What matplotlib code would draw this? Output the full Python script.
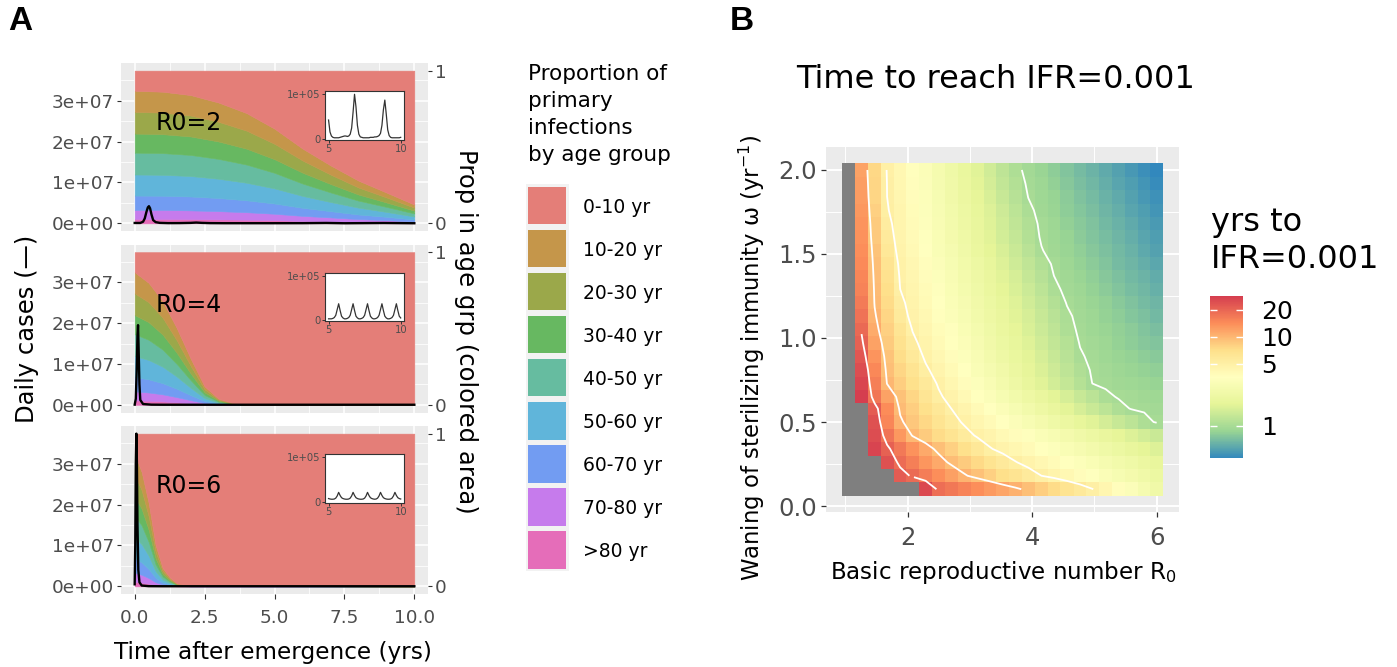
import numpy as np
import matplotlib
matplotlib.use("Agg")
import matplotlib.pyplot as plt
from matplotlib.colors import LinearSegmentedColormap, LogNorm
from matplotlib.patches import Rectangle

plt.rcParams['font.family'] = ['DejaVu Sans']
nan = np.nan

# ======================= DATA =======================
age_groups = ['0-10 yr', '10-20 yr', '20-30 yr', '30-40 yr', '40-50 yr',
              '50-60 yr', '60-70 yr', '70-80 yr', '>80 yr']
age_colors = ['#E47E78', '#C5964A', '#9BA84A', '#67B861', '#66BCA0',
              '#60B5DA', '#729CF2', '#C67BEC', '#E56DB9']
r0_labels = ['R0=2', 'R0=4', 'R0=6']
case_scale = 3.735e7          # secondary axis: proportion 1 == this many daily cases

# --- proportions of primary infections by age group (rows follow age_groups) ---
t_area_r2 = [0, 1, 2, 3, 4, 5, 6, 7, 8, 9, 10]
prop_r2 = [
    [.132, .138, .160, .209, .278, .380, .510, .620, .720, .798, .877],
    [.138, .137, .134, .126, .115, .099, .078, .060, .045, .032, .020],
    [.142, .141, .137, .129, .118, .101, .080, .062, .046, .033, .020],
    [.125, .124, .121, .114, .104, .089, .071, .055, .040, .029, .018],
    [.143, .142, .138, .130, .119, .102, .081, .063, .046, .033, .020],
    [.138, .137, .134, .126, .115, .099, .078, .060, .045, .032, .020],
    [.094, .093, .091, .086, .078, .067, .053, .041, .030, .022, .013],
    [.059, .059, .057, .054, .049, .042, .033, .026, .019, .014, .008],
    [.029, .029, .028, .026, .024, .021, .016, .013, .009, .007, .004],
]
t_area_r4 = [0, 0.5, 1, 1.5, 2, 2.5, 3, 3.5, 4, 10]
prop_r4 = [
    [.132, .201, .321, .496, .696, .879, .960, .9877, 1, 1],
    [.138, .127, .108, .080, .048, .019, .006, .002, 0, 0],
    [.142, .131, .111, .082, .050, .020, .007, .002, 0, 0],
    [.125, .115, .098, .073, .044, .018, .006, .002, 0, 0],
    [.143, .132, .112, .083, .050, .020, .007, .002, 0, 0],
    [.138, .127, .108, .080, .048, .019, .006, .002, 0, 0],
    [.094, .086, .073, .055, .033, .013, .004, .001, 0, 0],
    [.059, .054, .046, .034, .021, .008, .003, .001, 0, 0],
    [.029, .027, .023, .017, .010, .004, .001, .0003, 0, 0],
]
t_area_r6 = [0, 0.25, 0.5, 0.75, 1, 1.25, 1.5, 2, 10]
prop_r6 = [
    [.132, .252, .454, .731, .880, .9402, .9798, .997, 1],
    [.138, .119, .087, .043, .019, .0095, .0032, .0005, 0],
    [.142, .122, .089, .044, .020, .0098, .0033, .0005, 0],
    [.125, .108, .079, .039, .017, .0086, .0029, .0004, 0],
    [.143, .123, .090, .044, .020, .0099, .0033, .0005, 0],
    [.138, .119, .087, .043, .019, .0095, .0032, .0005, 0],
    [.094, .081, .059, .029, .013, .0065, .0022, .0003, 0],
    [.059, .051, .037, .018, .008, .004, .0014, .0002, 0],
    [.029, .025, .018, .009, .004, .002, .0007, .0001, 0],
]

# --- daily cases (black line) ---
t_cases_r2 = [0.0, 0.2, 0.3, 0.36, 0.42, 0.47, 0.51, 0.55, 0.6, 0.66, 0.75, 0.9, 1.2,
              1.6, 2.0, 2.2, 2.4, 2.7, 3.2, 4.0, 5.0, 6.0, 6.85, 7.5, 8.9, 10.0]
cases_r2 = [0.1e6, 0.1e6, 0.4e6, 1.2e6, 2.8e6, 3.9e6, 4.2e6, 3.7e6, 2.2e6, 0.8e6, 0.3e6,
            0.12e6, 0.06e6, 0.07e6, 0.12e6, 0.2e6, 0.12e6, 0.06e6, 0.04e6, 0.04e6,
            0.04e6, 0.05e6, 0.1e6, 0.03e6, 0.09e6, 0.03e6]
t_cases_r4 = [0.0, 0.04, 0.07, 0.1, 0.12, 0.14, 0.17, 0.2, 0.3, 0.6, 1.0, 2.0, 3.0,
              5.0, 7.0, 10.0]
cases_r4 = [0.05e6, 1.5e6, 8e6, 17e6, 19.5e6, 14e6, 5e6, 1.2e6, 0.2e6, 0.05e6, 0.03e6,
            0.03e6, 0.03e6, 0.03e6, 0.03e6, 0.03e6]
t_cases_r6 = [0.0, 0.02, 0.04, 0.06, 0.08, 0.1, 0.13, 0.17, 0.25, 0.5, 1.0, 3.0, 10.0]
cases_r6 = [0.5e6, 10e6, 30e6, 37.35e6, 30e6, 15e6, 4e6, 1e6, 0.2e6, 0.05e6, 0.03e6,
            0.03e6, 0.03e6]

# --- inset: daily cases for years 5-10 (thousands), sampled every 0.1 yr ---
inset_t = np.linspace(5.0, 10.0, 51)
inset_r2_k = [42, 15, 6, 3, 2, 2, 2, 2, 3, 4, 5, 6, 6, 5, 6, 10, 24, 60, 100, 72,
              30, 10, 4, 3, 2, 2, 2, 2, 2, 3, 3, 3, 4, 4, 5, 7, 12, 30, 65, 87,
              55, 20, 7, 3, 2, 2, 2, 2, 2, 2, 3]
inset_r4_k = [3, 3, 3, 4, 6, 11, 24, 37, 22, 9, 5, 3, 3, 4, 6, 11, 24, 37, 22, 9,
              5, 3, 3, 4, 6, 11, 24, 37, 22, 9, 5, 3, 3, 4, 6, 11, 24, 37, 22, 9,
              5, 3, 3, 4, 6, 11, 24, 37, 22, 9, 5]
inset_r6_k = [7, 6, 5.5, 5.5, 6, 8, 13, 21, 14, 9, 7, 6, 5.5, 5.5, 6, 8, 13, 21, 14, 9,
              7, 6, 5.5, 5.5, 6, 8, 13, 21, 14, 9, 7, 6, 5.5, 6, 8, 13, 21, 14, 9, 7,
              6, 5.5, 5.5, 6, 8, 13, 21, 14, 9, 7, 6]

# --- panel B: years to reach IFR=0.001 (rows: omega from 2.0 down to 0.1) ---
r0_values = [1.05, 1.26, 1.47, 1.67, 1.88, 2.08, 2.29, 2.50, 2.70, 2.91, 3.12, 3.32, 3.53,
             3.73, 3.94, 4.15, 4.35, 4.56, 4.77, 4.97, 5.18, 5.39, 5.59, 5.80, 6.00]
omega_values = [0.10, 0.18, 0.26, 0.34, 0.42, 0.50, 0.58, 0.65, 0.73, 0.81, 0.89, 0.97, 1.05,
                1.13, 1.21, 1.29, 1.37, 1.44, 1.52, 1.60, 1.68, 1.76, 1.84, 1.92, 2.00]
yrs_rows_top_down = [
    [nan, 12, 7.5, 4.9, 4.2, 3.6, 3.1, 2.65, 2.28, 1.95, 1.66, 1.43, 1.22, 1.05, 0.95, 0.875, 0.81, 0.75, 0.69, 0.64, 0.59, 0.545, 0.505, 0.465, 0.43],
    [nan, 12.3, 7.6, 4.97, 4.25, 3.67, 3.15, 2.70, 2.33, 2.0, 1.72, 1.49, 1.27, 1.10, 0.97, 0.90, 0.83, 0.77, 0.71, 0.66, 0.61, 0.565, 0.525, 0.485, 0.45],
    [nan, 12.6, 7.7, 5.0, 4.3, 3.73, 3.21, 2.77, 2.40, 2.07, 1.78, 1.54, 1.33, 1.15, 0.995, 0.92, 0.86, 0.795, 0.735, 0.685, 0.635, 0.59, 0.545, 0.505, 0.47],
    [nan, 13, 8.0, 5.1, 4.35, 3.78, 3.27, 2.82, 2.46, 2.12, 1.83, 1.60, 1.38, 1.20, 1.04, 0.945, 0.88, 0.815, 0.76, 0.705, 0.655, 0.61, 0.565, 0.525, 0.49],
    [nan, 13.3, 8.4, 5.35, 4.42, 3.85, 3.34, 2.89, 2.52, 2.18, 1.89, 1.65, 1.43, 1.24, 1.08, 0.966, 0.90, 0.84, 0.78, 0.73, 0.68, 0.63, 0.59, 0.545, 0.51],
    [nan, 13.7, 8.6, 5.57, 4.49, 3.92, 3.40, 2.94, 2.57, 2.23, 1.94, 1.69, 1.47, 1.28, 1.11, 0.98, 0.92, 0.857, 0.80, 0.75, 0.70, 0.65, 0.61, 0.567, 0.53],
    [nan, 14, 9.0, 5.9, 4.58, 4.02, 3.49, 3.03, 2.66, 2.31, 2.01, 1.76, 1.53, 1.34, 1.16, 1.01, 0.94, 0.88, 0.82, 0.77, 0.72, 0.67, 0.63, 0.585, 0.55],
    [nan, 14.5, 9.3, 6.4, 4.74, 4.17, 3.64, 3.17, 2.79, 2.43, 2.12, 1.86, 1.62, 1.42, 1.24, 1.08, 0.975, 0.91, 0.85, 0.80, 0.74, 0.69, 0.65, 0.61, 0.57],
    [nan, 15, 9.5, 6.7, 4.87, 4.29, 3.75, 3.28, 2.88, 2.52, 2.21, 1.94, 1.70, 1.50, 1.31, 1.14, 1.0, 0.94, 0.88, 0.82, 0.77, 0.72, 0.68, 0.64, 0.60],
    [nan, 15.5, 9.7, 7.0, 5.0, 4.40, 3.86, 3.38, 2.97, 2.60, 2.28, 2.01, 1.76, 1.55, 1.36, 1.19, 1.04, 0.96, 0.90, 0.845, 0.79, 0.745, 0.70, 0.66, 0.62],
    [nan, 16.5, 9.85, 7.3, 5.3, 4.53, 3.98, 3.49, 3.08, 2.71, 2.38, 2.10, 1.84, 1.63, 1.43, 1.26, 1.11, 0.99, 0.93, 0.88, 0.83, 0.78, 0.73, 0.69, 0.65],
    [nan, 18, 10.3, 7.6, 5.6, 4.65, 4.08, 3.60, 3.18, 2.80, 2.47, 2.18, 1.92, 1.70, 1.50, 1.32, 1.16, 1.03, 0.955, 0.905, 0.85, 0.805, 0.76, 0.72, 0.68],
    [nan, 19.5, 10.9, 8.1, 6.25, 4.94, 4.34, 3.81, 3.37, 2.95, 2.59, 2.29, 2.01, 1.78, 1.56, 1.37, 1.21, 1.06, 0.97, 0.92, 0.875, 0.83, 0.79, 0.745, 0.71],
    [nan, 21, 12.0, 8.5, 6.7, 5.3, 4.53, 3.98, 3.52, 3.09, 2.71, 2.40, 2.11, 1.86, 1.64, 1.44, 1.27, 1.12, 0.99, 0.946, 0.90, 0.855, 0.815, 0.775, 0.74],
    [nan, 23, 13.3, 9.0, 7.2, 5.8, 4.79, 4.20, 3.71, 3.25, 2.85, 2.52, 2.21, 1.95, 1.71, 1.50, 1.32, 1.16, 1.02, 0.965, 0.925, 0.885, 0.85, 0.81, 0.78],
    [nan, 25, 14.8, 9.4, 7.7, 6.35, 5.2, 4.49, 3.95, 3.46, 3.03, 2.67, 2.34, 2.06, 1.80, 1.58, 1.39, 1.22, 1.07, 0.98, 0.946, 0.91, 0.88, 0.85, 0.82],
    [nan, 26.5, 16.0, 9.9, 8.2, 6.9, 5.75, 4.84, 4.26, 3.72, 3.24, 2.85, 2.49, 2.19, 1.91, 1.67, 1.47, 1.28, 1.12, 0.997, 0.97, 0.945, 0.92, 0.895, 0.87],
    [nan, 28.7, 17.5, 12.0, 9.1, 7.6, 6.3, 5.2, 4.57, 4.04, 3.56, 3.16, 2.79, 2.47, 2.18, 1.93, 1.71, 1.51, 1.33, 1.18, 1.04, 0.985, 0.965, 0.94, 0.92],
    [nan, nan, 22, 14.3, 9.6, 8.2, 6.9, 5.9, 5.0, 4.43, 3.93, 3.50, 3.10, 2.76, 2.45, 2.17, 1.93, 1.71, 1.52, 1.35, 1.20, 1.06, 0.99, 0.975, 0.96],
    [nan, nan, 24, 14.9, 10.4, 8.8, 7.5, 6.4, 5.5, 4.82, 4.33, 3.90, 3.50, 3.15, 2.83, 2.54, 2.29, 2.05, 1.84, 1.66, 1.48, 1.33, 1.20, 1.06, 0.98],
    [nan, nan, 25, 17.7, 12.9, 9.8, 8.5, 7.3, 6.4, 5.5, 4.84, 4.43, 4.04, 3.70, 3.37, 3.07, 2.81, 2.56, 2.33, 2.13, 1.94, 1.77, 1.62, 1.47, 1.35],
    [nan, nan, 27, 21, 16.7, 13.7, 11.1, 9.3, 8.0, 6.9, 5.9, 5.1, 4.62, 4.25, 3.88, 3.54, 3.25, 2.97, 2.71, 2.49, 2.27, 2.08, 1.91, 1.74, 1.6],
    [nan, nan, nan, 24, 18.8, 15.9, 13.2, 11.1, 9.5, 8.4, 7.4, 6.5, 5.7, 5.07, 4.6, 4.2, 3.86, 3.53, 3.22, 2.96, 2.70, 2.47, 2.26, 2.07, 1.9],
    [nan, nan, nan, nan, 22, 19.3, 16.4, 14.0, 12.1, 10.3, 9.1, 8.1, 7.1, 6.4, 5.6, 5.0, 4.55, 4.13, 3.74, 3.40, 3.08, 2.79, 2.54, 2.30, 2.1],
    [nan, nan, nan, nan, nan, nan, 26, 18.7, 17.0, 15.4, 14.0, 12.7, 11.5, 10.5, 9.4, 8.2, 7.3, 6.4, 5.7, 5.04, 4.3, 3.66, 3.15, 2.69, 2.3],
]
contour_levels = [1, 5, 10, 20]
colorbar_breaks = [1, 5, 10, 20]
spectral7 = ['#3288BD', '#99D594', '#E6F598', '#FFFFBF', '#FEE08B', '#FC8D59', '#D53E4F']

for row in yrs_rows_top_down:
    assert len(row) == 25, len(row)
assert len(yrs_rows_top_down) == 25
for arr in (inset_r2_k, inset_r4_k, inset_r6_k):
    assert len(arr) == 51, len(arr)

# ======================= FIGURE =======================
W, H = 1397.0, 667.0
fig = plt.figure(figsize=(W / 100, H / 100), dpi=100)
fig.patch.set_facecolor('white')


def rect(x0, y0, x1, y1):
    return [x0 / W, 1 - y1 / H, (x1 - x0) / W, (y1 - y0) / H]


TICK_C = '#333333'
LAB_C = '#4D4D4D'

panel_boxes = [(120.7, 63, 428.3, 231), (120.7, 244.5, 428.3, 412.5), (120.7, 426, 428.3, 594)]
panel_data = [
    (t_area_r2, prop_r2, t_cases_r2, cases_r2, inset_r2_k),
    (t_area_r4, prop_r4, t_cases_r4, cases_r4, inset_r4_k),
    (t_area_r6, prop_r6, t_cases_r6, cases_r6, inset_r6_k),
]

for i, (t_area, props, t_c, cases, ins_k) in enumerate(panel_data):
    ax = fig.add_axes(rect(*panel_boxes[i]))
    ax.set_facecolor('#EBEBEB')
    for s in ax.spines.values():
        s.set_visible(False)
    ax.set_xlim(-0.5, 10.5)
    ax.set_ylim(-0.05 * case_scale, 1.05 * case_scale)
    ax.set_xticks([0, 2.5, 5, 7.5, 10])
    ax.set_xticks([1.25, 3.75, 6.25, 8.75], minor=True)
    ax.set_yticks([0, 1e7, 2e7, 3e7])
    ax.set_yticks([0.5e7, 1.5e7, 2.5e7, 3.5e7], minor=True)
    ax.grid(which='major', color='white', lw=1.1)
    ax.grid(which='minor', color='white', lw=0.55)
    ax.set_axisbelow(True)

    layers = [np.array(p) * case_scale for p in props[::-1]]
    ax.stackplot(t_area, *layers, colors=age_colors[::-1], linewidth=0.4,
                 edgecolor='face', zorder=2)
    ax.plot(t_c, cases, color='black', lw=1.7, zorder=3)

    ax.set_yticklabels(['0e+00', '1e+07', '2e+07', '3e+07'])
    ax.tick_params(axis='y', which='major', length=3, width=0.8, color=TICK_C,
                   labelcolor=LAB_C, labelsize=13.3, pad=2)
    ax.tick_params(axis='x', which='major', length=3.5, width=0.8, color=TICK_C,
                   labelcolor=LAB_C, labelsize=13.3, pad=7)
    ax.tick_params(which='minor', length=0)
    if i < 2:
        ax.tick_params(axis='x', bottom=False, labelbottom=False)
    else:
        ax.set_xticklabels(['0.0', '2.5', '5.0', '7.5', '10.0'])

    sec = ax.secondary_yaxis('right', functions=(lambda y: y / case_scale,
                                                 lambda p: p * case_scale))
    sec.set_yticks([0, 1])
    sec.set_yticklabels(['0', '1'])
    sec.tick_params(length=3, width=0.8, color=TICK_C, labelcolor=LAB_C,
                    labelsize=13.3, pad=2)
    for s in sec.spines.values():
        s.set_visible(False)

    ax.text(1.95, 2.45e7, r0_labels[i], fontsize=17, ha='center', va='center',
            color='black', zorder=4)

    ins = ax.inset_axes([0.664, 0.543, 0.258, 0.29])
    ins.set_zorder(5)
    ins.set_facecolor('white')
    ins.plot(inset_t, np.array(ins_k) * 1e3, color='#333333', lw=0.9)
    ins.set_xlim(4.75, 10.25)
    ins.set_ylim(-2500, 107300)
    ins.set_xticks([5, 10])
    ins.set_xticklabels(['5', '10'])
    ins.set_yticks([0, 1e5])
    ins.set_yticklabels(['0', '1e+05'])
    ins.tick_params(length=2, width=0.7, color=TICK_C, labelsize=7.2,
                    labelcolor=LAB_C, pad=1)
    for s in ins.spines.values():
        s.set_color('#333333')
        s.set_linewidth(0.8)

# axis titles, panel A
fig.text(27 / W, 1 - 329 / H, 'Daily cases (—)', rotation=90, fontsize=17.5,
         ha='center', va='center')
fig.text(466 / W, 1 - 331 / H, 'Prop in age grp (colored area)', rotation=-90,
         fontsize=17.5, ha='center', va='center')
fig.text(273 / W, 1 - 653 / H, 'Time after emergence (yrs)', fontsize=16.7,
         ha='center', va='center')

# ---------- Panel B ----------
axB = fig.add_axes(rect(826.2, 146.6, 1179, 512.4))
axB.set_facecolor('#EBEBEB')
for s in axB.spines.values():
    s.set_visible(False)
Z = np.ma.masked_invalid(np.array(yrs_rows_top_down[::-1], dtype=float))
cmap = LinearSegmentedColormap.from_list('spectral7', spectral7, N=256)
cmap.set_bad('#7F7F7F')
norm = LogNorm(vmin=float(Z.min()), vmax=float(Z.max()))
mesh = axB.pcolormesh(r0_values, omega_values, Z, cmap=cmap, norm=norm,
                      shading='nearest', zorder=2)
axB.contour(r0_values, omega_values, Z, levels=contour_levels, colors='white',
            linewidths=1.3, zorder=3)
axB.set_xlim(0.692, 6.359)
axB.set_ylim(-0.038, 2.139)
axB.set_xticks([2, 4, 6])
axB.set_xticks([1, 3, 5], minor=True)
axB.set_yticks([0, 0.5, 1, 1.5, 2])
axB.set_yticks([0.25, 0.75, 1.25, 1.75], minor=True)
axB.set_yticklabels(['0.0', '0.5', '1.0', '1.5', '2.0'])
axB.grid(which='major', color='white', lw=1.4)
axB.grid(which='minor', color='white', lw=0.7)
axB.set_axisbelow(True)
axB.tick_params(axis='y', which='major', length=3.5, width=0.9, color=TICK_C,
                labelcolor=LAB_C, labelsize=17.5, pad=3)
axB.tick_params(axis='x', which='major', length=3.5, width=0.9, color=TICK_C,
                labelcolor=LAB_C, labelsize=17.5, pad=6)
axB.tick_params(which='minor', length=0)

fig.text(996 / W, 1 - 80 / H, 'Time to reach IFR=0.001', fontsize=23,
         ha='center', va='center')
fig.text(1003.5 / W, 1 - 572 / H, 'Basic reproductive number R$_0$', fontsize=16.6,
         ha='center', va='center')
fig.text(752 / W, 1 - 358 / H, 'Waning of sterilizing immunity ω (yr$^{-1}$)',
         rotation=90, fontsize=16.4, ha='center', va='center')

# colorbar
cax = fig.add_axes(rect(1210, 296, 1242.7, 458.3))
cb = fig.colorbar(mesh, cax=cax)
cb.outline.set_visible(False)
cb.set_ticks(colorbar_breaks)
cb.set_ticklabels([str(b) for b in colorbar_breaks])
cb.minorticks_off()
cax.tick_params(which='major', direction='in', length=5, width=1, color='white',
                left=True, right=True, labelleft=False, labelright=True,
                labelsize=18, labelcolor='black', pad=13.5)
fig.text(1211 / W, 1 - 223 / H, 'yrs to', fontsize=23, ha='left', va='center')
fig.text(1211 / W, 1 - 259 / H, 'IFR=0.001', fontsize=23, ha='left', va='center')

# ---------- legend for panel A ----------
axL = fig.add_axes([0, 0, 1, 1])
axL.set_xlim(0, W)
axL.set_ylim(H, 0)
axL.axis('off')
axL.patch.set_visible(False)
axL.add_patch(Rectangle((525.5, 184.3), 43.5, 387.0, facecolor='#F2F2F2',
                        edgecolor='none'))
for k, (lab, col) in enumerate(zip(age_groups, age_colors)):
    top = 186.7 + 43.04 * k
    axL.add_patch(Rectangle((528.3, top), 37.7, 37.6, facecolor=col, edgecolor='none'))
    axL.text(582.7, top + 18.8 + 7.5, lab, fontsize=13.5, ha='left', va='baseline')
for line, base in zip(['Proportion of', 'primary', 'infections', 'by age group'],
                      [80, 107, 134, 161]):
    axL.text(528.3, base, line, fontsize=15.5, ha='left', va='baseline')

# panel tags
tag_font = ['Liberation Sans Narrow', 'Liberation Sans', 'DejaVu Sans']
fig.text(20 / W, 1 - 22 / H, 'A', fontsize=24, fontweight='bold', family=tag_font,
         ha='center', va='center')
fig.text(742 / W, 1 - 22 / H, 'B', fontsize=24, fontweight='bold', family=tag_font,
         ha='center', va='center')

fig.savefig('out.png', dpi=100)
